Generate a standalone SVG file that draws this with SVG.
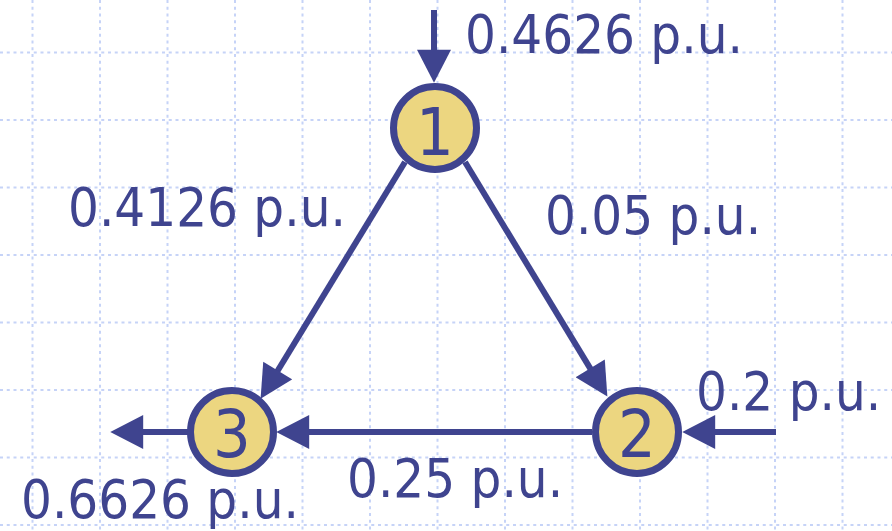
<svg xmlns="http://www.w3.org/2000/svg" width="892" height="531" viewBox="0 0 892 531">
<style>
.grid line{stroke:#c6d3f7;stroke-width:2;stroke-dasharray:3 3.75}
.edge{stroke:#3f448f;stroke-width:6;fill:none;marker-end:url(#ah)}
.node circle{fill:#ecd680;stroke:#3f448f;stroke-width:7}
.num{font-family:"DejaVu Sans Condensed","DejaVu Sans",sans-serif;font-size:66px;fill:#3f448f;text-anchor:middle}
.lbl{font-family:"DejaVu Sans Condensed","DejaVu Sans",sans-serif;font-size:54px;fill:#3f448f}
</style>
<defs>
<marker id="ah" markerUnits="userSpaceOnUse" markerWidth="34" markerHeight="34" refX="7" refY="16.5" orient="auto" viewBox="0 0 32 33">
<path d="M0,0 L32,16.5 L0,33 z" fill="#3f448f"/>
</marker>
</defs>
<rect width="892" height="531" fill="#ffffff"/>
<g class="grid">
<line x1="32.5" y1="0" x2="32.5" y2="531"/>
<line x1="100" y1="0" x2="100" y2="531"/>
<line x1="167.5" y1="0" x2="167.5" y2="531"/>
<line x1="235" y1="0" x2="235" y2="531"/>
<line x1="302.5" y1="0" x2="302.5" y2="531"/>
<line x1="370" y1="0" x2="370" y2="531"/>
<line x1="437.5" y1="0" x2="437.5" y2="531"/>
<line x1="505" y1="0" x2="505" y2="531"/>
<line x1="572.5" y1="0" x2="572.5" y2="531"/>
<line x1="640" y1="0" x2="640" y2="531"/>
<line x1="707.5" y1="0" x2="707.5" y2="531"/>
<line x1="775" y1="0" x2="775" y2="531"/>
<line x1="842.5" y1="0" x2="842.5" y2="531"/>
<line x1="0" y1="52.5" x2="892" y2="52.5"/>
<line x1="0" y1="120" x2="892" y2="120"/>
<line x1="0" y1="187.5" x2="892" y2="187.5"/>
<line x1="0" y1="255" x2="892" y2="255"/>
<line x1="0" y1="322.5" x2="892" y2="322.5"/>
<line x1="0" y1="390" x2="892" y2="390"/>
<line x1="0" y1="457.5" x2="892" y2="457.5"/>
<line x1="0" y1="525" x2="892" y2="525"/>
</g>
<g id="connectors">
<line class="edge" x1="434" y1="10" x2="434" y2="57"/>
<line class="edge" x1="405" y1="162" x2="274" y2="376.7"/>
<line class="edge" x1="465" y1="162" x2="594" y2="374.6"/>
<line class="edge" x1="592" y1="432" x2="302" y2="432"/>
<line class="edge" x1="776" y1="432" x2="708" y2="432"/>
<line class="edge" x1="190" y1="432" x2="136" y2="432"/>
</g>
<g id="node1" class="node">
<circle cx="435" cy="128" r="41.5"/>
<text class="num" x="435" y="155">1</text>
</g>
<g id="node2" class="node">
<circle cx="637" cy="432" r="41.5"/>
<text class="num" x="637" y="457">2</text>
</g>
<g id="node3" class="node">
<circle cx="232" cy="432" r="41.5"/>
<text class="num" x="232" y="457">3</text>
</g>
<g id="labels">
<text class="lbl" x="465" y="53">0.4626 p.u.</text>
<text class="lbl" x="68" y="226">0.4126 p.u.</text>
<text class="lbl" x="545" y="234">0.05 p.u.</text>
<text class="lbl" x="696" y="410">0.2 p.u.</text>
<text class="lbl" x="347" y="497">0.25 p.u.</text>
<text class="lbl" x="21" y="518">0.6626 p.u.</text>
</g>
</svg>
